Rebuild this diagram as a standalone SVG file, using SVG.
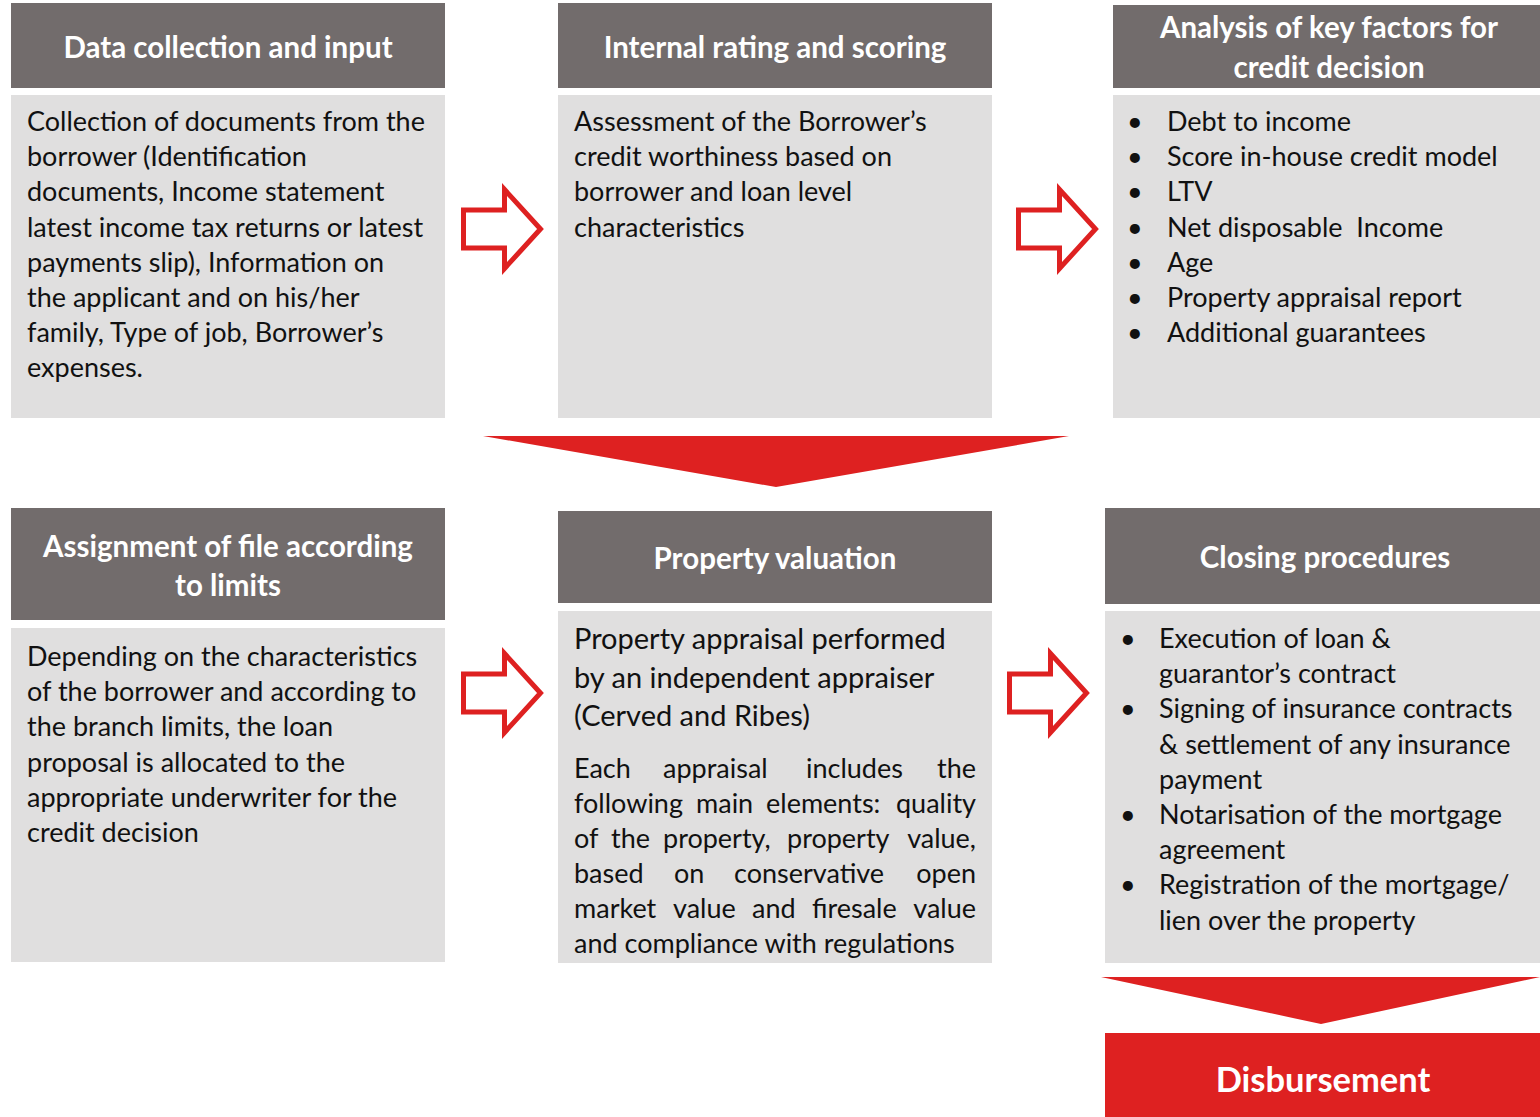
<svg xmlns="http://www.w3.org/2000/svg" width="1540" height="1117" viewBox="0 0 1540 1117">
  <style>
    .hdr { fill: #726C6C; }
    .body { fill: #E0DFDF; }
    .ht { font-family: Lato, "Open Sans", sans-serif; font-weight: bold; font-size: 29.5px; fill: #FFFFFF; text-anchor: middle; }
    .bt { font-family: Lato, "Open Sans", sans-serif; font-size: 27px; fill: #111111; }
    .big { font-size: 29px; }
    .end { text-anchor: end; }
    .arrow { fill: #FFFFFF; stroke: #DE2121; stroke-width: 5; stroke-linejoin: miter; }
    .red { fill: #DE2121; }
  </style>
  <defs>
    <!-- hollow block arrow, origin at left edge / vertical centre -->
    <path id="blockArrow" class="arrow" d="M2.5,-19 H43.5 V-39.5 L79.5,0 L43.5,39.5 V19 H2.5 Z"/>
  </defs>

  <rect width="1540" height="1117" fill="#FFFFFF"/>

  <!-- Row 1 -->
  <g id="data-collection">
    <rect class="hdr" x="11" y="3" width="434" height="85"/>
    <text class="ht" x="228" y="58">Data collection and input</text>
    <rect class="body" x="11" y="95" width="434" height="323"/>
    <text class="bt">
      <tspan x="27" y="131">Collection of documents from the</tspan>
      <tspan x="27" y="166.2">borrower (Identification</tspan>
      <tspan x="27" y="201.4">documents, Income statement</tspan>
      <tspan x="27" y="236.6">latest income tax returns or latest</tspan>
      <tspan x="27" y="271.8">payments slip), Information on</tspan>
      <tspan x="27" y="307">the applicant and on his/her</tspan>
      <tspan x="27" y="342.2">family, Type of job, Borrower’s</tspan>
      <tspan x="27" y="377.4">expenses.</tspan>
    </text>
  </g>

  <g id="internal-rating">
    <rect class="hdr" x="558" y="3" width="434" height="85"/>
    <text class="ht" x="775" y="58">Internal rating and scoring</text>
    <rect class="body" x="558" y="95" width="434" height="323"/>
    <text class="bt">
      <tspan x="574" y="131">Assessment of the Borrower’s</tspan>
      <tspan x="574" y="166.2">credit worthiness based on</tspan>
      <tspan x="574" y="201.4">borrower and loan level</tspan>
      <tspan x="574" y="236.6">characteristics</tspan>
    </text>
  </g>

  <g id="key-factors">
    <rect class="hdr" x="1113" y="5" width="427" height="83"/>
    <text class="ht" x="1329" y="38">Analysis of key factors for</text>
    <text class="ht" x="1329" y="78">credit decision</text>
    <rect class="body" x="1113" y="95" width="427" height="323"/>
    <text class="bt">
      <tspan x="1127" y="131">•</tspan><tspan x="1167" y="131">Debt to income</tspan>
      <tspan x="1127" y="166.2">•</tspan><tspan x="1167" y="166.2">Score in-house credit model</tspan>
      <tspan x="1127" y="201.4">•</tspan><tspan x="1167" y="201.4">LTV</tspan>
      <tspan x="1127" y="236.6">•</tspan><tspan x="1167" y="236.6">Net disposable&#160; Income</tspan>
      <tspan x="1127" y="271.8">•</tspan><tspan x="1167" y="271.8">Age</tspan>
      <tspan x="1127" y="307">•</tspan><tspan x="1167" y="307">Property appraisal report</tspan>
      <tspan x="1127" y="342.2">•</tspan><tspan x="1167" y="342.2">Additional guarantees</tspan>
    </text>
  </g>

  <!-- Row 2 -->
  <g id="assignment">
    <rect class="hdr" x="11" y="508" width="434" height="112"/>
    <text class="ht" x="228" y="557">Assignment of file according</text>
    <text class="ht" x="228" y="596">to limits</text>
    <rect class="body" x="11" y="628" width="434" height="334"/>
    <text class="bt">
      <tspan x="27" y="666">Depending on the characteristics</tspan>
      <tspan x="27" y="701.2">of the borrower and according to</tspan>
      <tspan x="27" y="736.4">the branch limits, the loan</tspan>
      <tspan x="27" y="771.6">proposal is allocated to the</tspan>
      <tspan x="27" y="806.8">appropriate underwriter for the</tspan>
      <tspan x="27" y="842">credit decision</tspan>
    </text>
  </g>

  <g id="property-valuation">
    <rect class="hdr" x="558" y="511" width="434" height="92"/>
    <text class="ht" x="775" y="569">Property valuation</text>
    <rect class="body" x="558" y="611" width="434" height="352"/>
    <text class="bt big">
      <tspan x="574" y="649">Property appraisal performed</tspan>
      <tspan x="574" y="687.5">by an independent appraiser</tspan>
      <tspan x="574" y="726">(Cerved and Ribes)</tspan>
    </text>
    <!-- justified paragraph: words placed individually, last word flush right -->
    <text class="bt">
      <tspan x="574" y="778">Each</tspan><tspan x="663" y="778">appraisal</tspan><tspan x="806" y="778">includes</tspan>
      <tspan x="574" y="813">following</tspan><tspan x="696" y="813">main</tspan><tspan x="766" y="813">elements:</tspan>
      <tspan x="574" y="848">of</tspan><tspan x="611" y="848">the</tspan><tspan x="663" y="848">property,</tspan><tspan x="787" y="848">property</tspan>
      <tspan x="574" y="883">based</tspan><tspan x="674" y="883">on</tspan><tspan x="734" y="883">conservative</tspan>
      <tspan x="574" y="918">market</tspan><tspan x="673" y="918">value</tspan><tspan x="752" y="918">and</tspan><tspan x="812" y="918">firesale</tspan>
      <tspan x="574" y="953">and compliance with regulations</tspan>
    </text>
    <text class="bt end" x="976" y="778">the</text>
    <text class="bt end" x="976" y="813">quality</text>
    <text class="bt end" x="976" y="848">value,</text>
    <text class="bt end" x="976" y="883">open</text>
    <text class="bt end" x="976" y="918">value</text>
  </g>

  <g id="closing-procedures">
    <rect class="hdr" x="1105" y="508" width="435" height="96"/>
    <text class="ht" x="1325" y="568">Closing procedures</text>
    <rect class="body" x="1105" y="611" width="435" height="352"/>
    <text class="bt">
      <tspan x="1120" y="648">•</tspan><tspan x="1159" y="648">Execution of loan &amp;</tspan>
      <tspan x="1159" y="683.2">guarantor’s contract</tspan>
      <tspan x="1120" y="718.4">•</tspan><tspan x="1159" y="718.4">Signing of insurance contracts</tspan>
      <tspan x="1159" y="753.6">&amp; settlement of any insurance</tspan>
      <tspan x="1159" y="788.8">payment</tspan>
      <tspan x="1120" y="824">•</tspan><tspan x="1159" y="824">Notarisation of the mortgage</tspan>
      <tspan x="1159" y="859.2">agreement</tspan>
      <tspan x="1120" y="894.4">•</tspan><tspan x="1159" y="894.4">Registration of the mortgage/</tspan>
      <tspan x="1159" y="929.6">lien over the property</tspan>
    </text>
  </g>

  <g id="disbursement">
    <rect class="red" x="1105" y="1033" width="435" height="84"/>
    <text class="ht" x="1323" y="1092" style="font-size:34.5px">Disbursement</text>
  </g>

  <!-- Connectors -->
  <g id="connectors">
    <use href="#blockArrow" x="461" y="229"/>
    <use href="#blockArrow" x="1016" y="229"/>
    <use href="#blockArrow" x="461" y="693"/>
    <use href="#blockArrow" x="1007" y="693"/>
    <polygon class="red" points="483,436 1069,436 776,487"/>
    <polygon class="red" points="1101,977 1540,977 1321,1024"/>
  </g>
</svg>
